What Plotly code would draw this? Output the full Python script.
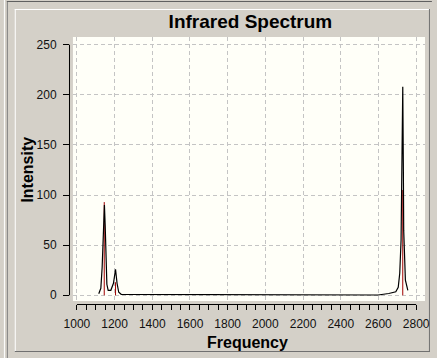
import plotly.graph_objects as go

# ---- data ----
curve_freq = [1116, 1127, 1134, 1141, 1146, 1150, 1154, 1159, 1166, 1180, 1194, 1205, 1213, 1222, 1235,
              1905, 1912, 2598, 2655, 2692, 2705, 2713, 2720, 2724, 2726, 2729, 2732, 2734, 2743, 2756]
curve_int = [1.5, 7, 28, 70, 90, 70, 30, 11, 5, 5, 12, 26, 12, 3, 1,
             0.8, 0.2, 0.3, 1.8, 3.5, 8, 22, 55, 105, 158, 208, 132, 65, 15, 5]

stick_freq = [1145, 1205, 2729]
stick_int = [93, 13, 105]

x_ticks = [1000, 1200, 1400, 1600, 1800, 2000, 2200, 2400, 2600, 2800]
y_ticks = [0, 50, 100, 150, 200, 250]

W, H = 437, 358
ML, MR, MT, MB = 69, 7, 37, 54
PW, PH = W - ML - MR, H - MT - MB


def px(x):
    return (x - ML) / PW


def py(y):
    return (H - MB - y) / PH


# sticks as vertical segments
sx, sy = [], []
for f, v in zip(stick_freq, stick_int):
    sx += [f, f, None]
    sy += [0, v, None]

fig = go.Figure()
fig.add_trace(go.Scatter(x=sx, y=sy, mode="lines", line=dict(color="#a00000", width=1),
                         hoverinfo="skip", showlegend=False))
fig.add_trace(go.Scatter(x=curve_freq, y=curve_int, mode="lines", line=dict(color="black", width=1.2),
                         showlegend=False))

font = "Liberation Sans, Arial, sans-serif"
grid = dict(showgrid=True, gridcolor="#c4c4c4", griddash="4px,3px", gridwidth=1, zeroline=False,
            showline=False, ticks="outside", tickcolor="black",
            tickfont=dict(family=font, size=12, color="#111111"))

fig.update_layout(
    width=W, height=H,
    margin=dict(l=ML, r=MR, t=MT, b=MB),
    paper_bgcolor="#d4d0c8",
    plot_bgcolor="#fffff8",
    title=dict(text="<b>Infrared Spectrum</b>", x=px(253), xref="paper", xanchor="center",
               y=1 - 21 / H, yref="container", yanchor="middle",
               font=dict(family=font, size=19, color="black")),
    xaxis=dict(grid, domain=[px(73), px(430)], range=[979, 2847], anchor="free", position=0,
               tickvals=x_ticks, ticktext=[str(v) for v in x_ticks], ticklen=5,
               minor=dict(dtick=50, tick0=1000, ticks="outside", ticklen=5, tickcolor="black", showgrid=False),
               ticklabelstandoff=4),
    yaxis=dict(grid, domain=[py(301), 1], range=[-5.7, 257.7], anchor="free", position=0,
               tickvals=y_ticks, ticklen=6, ticklabelstandoff=4),
    annotations=[
        dict(text="<b>Frequency</b>", x=px(250), y=py(342), xref="paper", yref="paper",
             showarrow=False, xanchor="center", yanchor="middle",
             font=dict(family=font, size=16, color="black")),
        dict(text="<b>Intensity</b>", x=px(26), y=py(170), xref="paper", yref="paper",
             showarrow=False, xanchor="center", yanchor="middle", textangle=-90,
             font=dict(family=font, size=16, color="black")),
    ],
)

shapes = []
# axis lines (spanning the tick range only)
shapes.append(dict(type="line", xref="x", yref="paper", x0=1000, x1=2800, y0=py(304.5), y1=py(304.5),
                   line=dict(color="black", width=1)))
shapes.append(dict(type="line", xref="paper", yref="y", x0=px(69.5), x1=px(69.5), y0=0, y1=250,
                   line=dict(color="black", width=1)))


def pline(x0, y0, x1, y1, color):
    shapes.append(dict(type="line", xref="paper", yref="paper", x0=px(x0), x1=px(x1),
                       y0=py(y0), y1=py(y1), line=dict(color=color, width=1), layer="below"))


# window / panel borders
pline(3.5, 0, 3.5, H, "white")
pline(6.5, 1, 6.5, H, "#808080")
pline(6, 1.5, W, 1.5, "#606060")
pline(14.5, 9, 14.5, 352, "white")
pline(14, 9.5, 435, 9.5, "white")
pline(434.5, 9, 434.5, 352, "#707070")
pline(14, 351.5, 435, 351.5, "#707070")

fig.update_layout(shapes=shapes)
fig.write_html("out.html", config={"displayModeBar": False},
               post_script="document.body.style.margin='0';document.body.style.overflow='hidden';")
